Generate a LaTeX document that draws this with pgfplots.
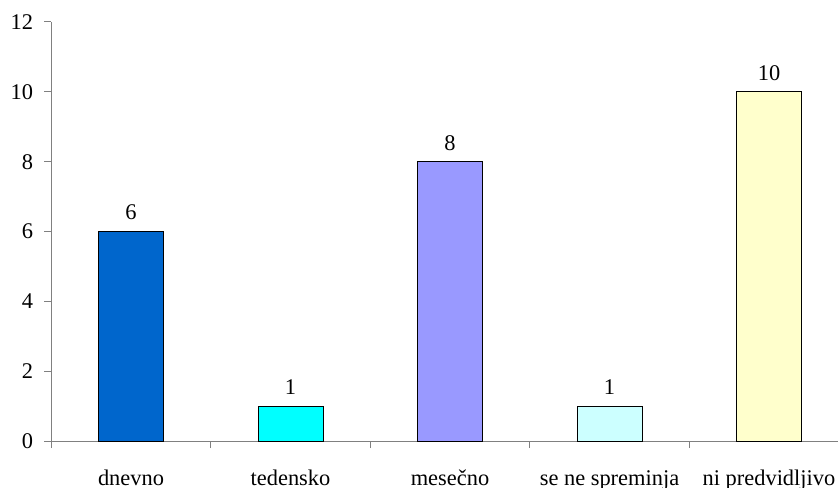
\documentclass[border=0pt]{standalone}
\usepackage{fontspec}
\setmainfont{Liberation Serif}
\usepackage{pgfplots}
\pgfplotsset{compat=1.18}

\definecolor{cDnevno}{HTML}{0066CC}
\definecolor{cTedensko}{HTML}{00FFFF}
\definecolor{cMesecno}{HTML}{9999FF}
\definecolor{cSeNe}{HTML}{CCFFFF}
\definecolor{cNiPred}{HTML}{FFFFCC}
\definecolor{axisgray}{HTML}{808080}

\begin{document}
\fontsize{22.5}{27}\selectfont
\begin{tikzpicture}
\begin{axis}[
  scale only axis,
  width=786.75bp, height=419bp,
  xmin=-0.5, xmax=4.4326,
  ymin=0, ymax=12,
  ytick={0,2,...,12},
  axis lines*=left,
  axis line style={draw=axisgray, line width=1bp},
  tick align=outside,
  major tick length=7bp,
  tick style={draw=axisgray, line width=1bp},
  xtick={-0.5,0.5,1.5,2.5,3.5},
  xticklabels={},
  extra x ticks={0,1,2,3,4},
  extra x tick labels={dnevno,tedensko,mesečno,se ne spreminja,ni predvidljivo},
  extra x tick style={major tick length=0pt,
    tick label style={anchor=north, inner sep=0pt, text height=17bp, text depth=5bp, yshift=-27bp}},
  yticklabel style={inner sep=0pt, xshift=-11bp},
  font=\fontsize{22.5}{27}\selectfont,
  /pgf/number format/assume math mode=true,
  ybar, bar width=65bp, bar shift=0pt,
  every axis plot/.append style={draw=black, line width=0.8bp},
  nodes near coords,
  every node near coord/.append style={anchor=south, inner sep=0pt, yshift=11bp, text=black},
  clip=false,
]
\addplot[fill=cDnevno] coordinates {(0,6)};
\addplot[fill=cTedensko] coordinates {(1,1)};
\addplot[fill=cMesecno] coordinates {(2,8)};
\addplot[fill=cSeNe] coordinates {(3,1)};
\addplot[fill=cNiPred] coordinates {(4,10)};
\end{axis}
\pgfresetboundingbox
\path[use as bounding box] ([xshift=-51.25bp,yshift=-47bp]current axis.south west)
  rectangle ([yshift=22bp]current axis.north east);
\end{tikzpicture}
\end{document}
